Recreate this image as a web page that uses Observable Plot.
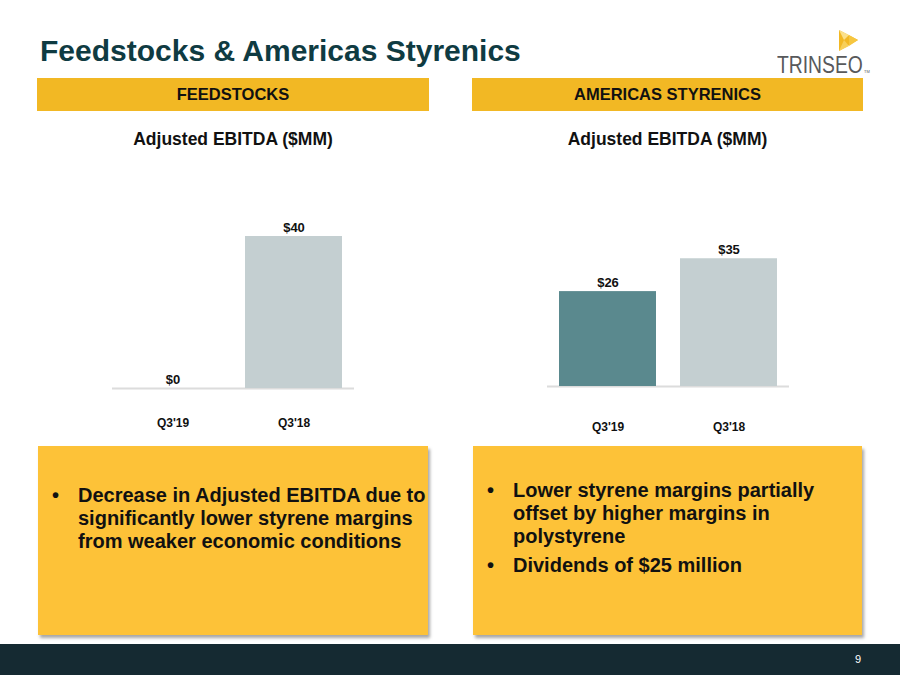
<!DOCTYPE html>
<html>
<head>
<meta charset="utf-8">
<script src="https://cdn.jsdelivr.net/npm/d3@7"></script>
<script src="https://cdn.jsdelivr.net/npm/@observablehq/plot@0.6"></script>
<style>
  html, body { margin: 0; padding: 0; background: #fff; }
  body { width: 900px; height: 675px; position: relative; overflow: hidden; font-family: "Liberation Sans", Arial, sans-serif; }
  .abs { position: absolute; }
  .title { left: 40px; top: 34px; font-size: 30px; font-weight: bold; color: #0f3b42; white-space: nowrap; }
  .hdr { top: 78px; height: 33px; background: #f2b824; color: #111; font-weight: bold; font-size: 16.5px; display: flex; align-items: center; justify-content: center; }
  .ctitle { top: 129px; font-size: 17.5px; font-weight: bold; color: #111; text-align: center; }
  .box { top: 446px; height: 189px; background: #fdc238; box-shadow: 2px 3px 3px rgba(0,0,0,0.35); }
  .box ul { margin: 0; padding: 0; list-style: none; }
  .box li { position: relative; padding-left: 40px; font-size: 20px; font-weight: bold; line-height: 23px; color: #111; }
  .box li::before { content: "•"; position: absolute; left: 14px; }
  .footer { left: 0; top: 644px; width: 900px; height: 31px; background: #152a32; }
  .pnum { left: 855px; top: 653px; color: #fff; font-size: 11px; }
  .plot { top: 150px; width: 450px; height: 290px; }
  .logo { left: 777px; top: 52px; font-family: "Liberation Sans", Arial; font-size: 23px; color: #58595b; line-height: 26px; white-space: nowrap; transform: scaleX(0.84); transform-origin: 0 0; }
  .tm { left: 864px; top: 69px; font-size: 4px; color: #58595b; line-height: 5px; }
</style>
</head>
<body>
<div class="abs title">Feedstocks &amp; Americas Styrenics</div>

<svg class="abs" style="left:836px;top:28px" width="24" height="26" viewBox="0 0 24 26">
  <polygon points="3,2 22,12 3,23" fill="#f2b824"/>
  <polygon points="3,2 13,7 8,12" fill="#fbe08a"/>
  <polygon points="8,12 13,18 3,23" fill="#f7cf5a"/>
  <polygon points="13,7 22,12 13,18" fill="#f6c640"/>
</svg>
<div class="abs logo">TRINSEO</div>
<div class="abs tm">TM</div>

<div class="abs hdr" style="left:37px;width:392px">FEEDSTOCKS</div>
<div class="abs hdr" style="left:472px;width:391px">AMERICAS STYRENICS</div>

<div class="abs ctitle" style="left:37px;width:392px">Adjusted EBITDA ($MM)</div>
<div class="abs ctitle" style="left:472px;width:391px">Adjusted EBITDA ($MM)</div>

<div class="abs plot" id="left" style="left:0px"></div>
<div class="abs plot" id="right" style="left:450px"></div>

<div class="abs box" style="left:38px;width:390px">
  <ul style="margin-top:38px">
    <li>Decrease in Adjusted EBITDA due to significantly lower styrene margins from weaker economic conditions</li>
  </ul>
</div>
<div class="abs box" style="left:473px;width:389px">
  <ul style="margin-top:33px">
    <li style="margin-bottom:6px">Lower styrene margins partially offset by higher margins in polystyrene</li>
    <li>Dividends of $25 million</li>
  </ul>
</div>

<div class="abs footer"></div>
<div class="abs pnum">9</div>

<script>
const periods = ["Q3'19", "Q3'18"];
const feedstocksEbitda = [0, 40];
const americasStyrenicsEbitda = [26, 35];
const barColors = ["#5a898e", "#c4cfd1"];

function barChart(values, opts) {
  const data = periods.map((p, i) => ({period: p, value: values[i]}));
  return Plot.plot({
    width: 450,
    height: 290,
    marginLeft: opts.ml,
    marginRight: opts.mr,
    marginTop: opts.mt,
    marginBottom: opts.mb,
    style: {fontFamily: "'Liberation Sans', Arial, sans-serif", background: "transparent"},
    x: {domain: periods, paddingInner: 0.2, paddingOuter: 0.1, label: null},
    y: {domain: [0, 40], axis: null},
    color: {domain: periods, range: barColors},
    marks: [
      Plot.ruleY([0], {stroke: "#dcdcdc", strokeWidth: 2}),
      Plot.barY(data, {x: "period", y: "value", fill: "period"}),
      Plot.text(data, {x: "period", y: "value", text: d => "$" + d.value, lineAnchor: "bottom", dy: -5, fontSize: 13, fontWeight: "bold", fill: "#111"}),
      Plot.axisX({tickSize: 0, tickPadding: opts.tp, fontSize: 12, fontWeight: "bold", fill: "#111", label: null})
    ]
  });
}

document.getElementById("left").append(barChart(feedstocksEbitda, {ml: 112, mr: 96, mt: 86, mb: 52, tp: 30}));
document.getElementById("right").append(barChart(americasStyrenicsEbitda, {ml: 97, mr: 111, mt: 90, mb: 54, tp: 36}));
</script>
</body>
</html>
